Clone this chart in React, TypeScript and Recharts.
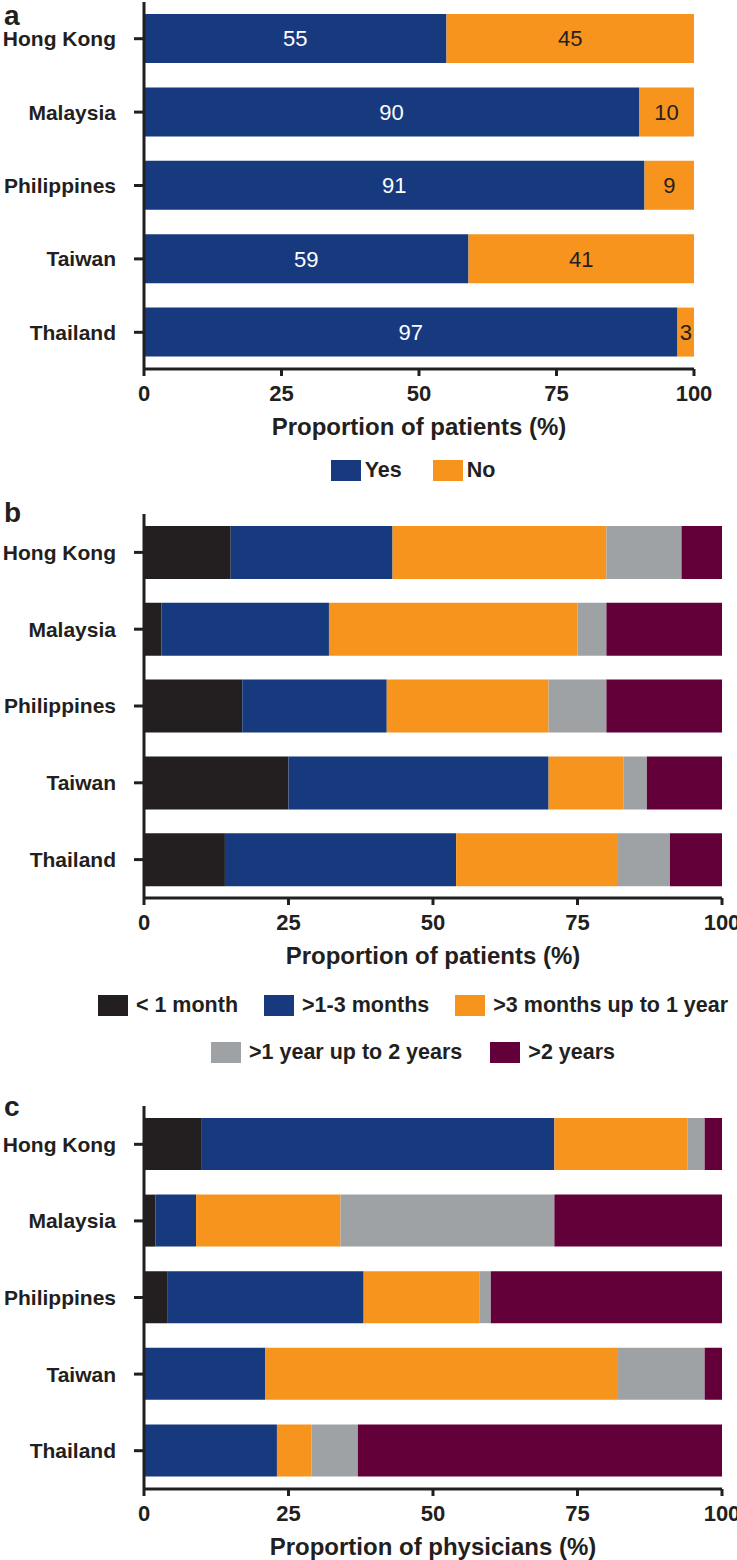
import React from "react";
import { BarChart, Bar, XAxis, YAxis, LabelList } from "recharts";

const countries = ["Hong Kong", "Malaysia", "Philippines", "Taiwan", "Thailand"];
const xTicks = [0, 25, 50, 75, 100];

// panel a
const yesValues = [55, 90, 91, 59, 97];
const noValues = [45, 10, 9, 41, 3];

// panel b + c share the duration categories
const durationLabels = [
  "< 1 month",
  ">1-3 months",
  ">3 months up to 1 year",
  ">1 year up to 2 years",
  ">2 years",
];

const patientLt1m = [15, 3, 17, 25, 14];
const patient1to3m = [28, 29, 25, 45, 40];
const patient3to12m = [37, 43, 28, 13, 28];
const patient1to2y = [13, 5, 10, 4, 9];
const patientGt2y = [7, 20, 20, 13, 9];

const physLt1m = [10, 2, 4, 0, 0];
const phys1to3m = [61, 7, 34, 21, 23];
const phys3to12m = [23, 25, 20, 61, 6];
const phys1to2y = [3, 37, 2, 15, 8];
const physGt2y = [3, 29, 40, 3, 63];

const INK = "#231f20";
const NAVY = "#173a7f";
const ORANGE = "#f7941e";
const GRAY = "#9fa2a5";
const PURPLE = "#63003a";
const FONT = "'Liberation Sans', Arial, Helvetica, sans-serif";

const durationColors = [INK, NAVY, ORANGE, GRAY, PURPLE];

type Series = {
  key: string;
  name: string;
  color: string;
  values: number[];
  labelFill?: string;
};

const yesNoSeries: Series[] = [
  { key: "yes", name: "Yes", color: NAVY, values: yesValues, labelFill: "#ffffff" },
  { key: "no", name: "No", color: ORANGE, values: noValues, labelFill: INK },
];

const patientSeries: Series[] = [patientLt1m, patient1to3m, patient3to12m, patient1to2y, patientGt2y].map(
  (values, i) => ({ key: "d" + i, name: durationLabels[i], color: durationColors[i], values })
);

const physicianSeries: Series[] = [physLt1m, phys1to3m, phys3to12m, phys1to2y, physGt2y].map(
  (values, i) => ({ key: "d" + i, name: durationLabels[i], color: durationColors[i], values })
);

function buildRows(series: Series[]) {
  return countries.map((country, i) => {
    const row: Record<string, string | number> = { country };
    series.forEach((s) => {
      row[s.key] = s.values[i];
    });
    return row;
  });
}

const X_AXIS_H = 70;

function Panel(props: {
  top: number;
  height: number;
  plotTop: number;
  plotBottom: number;
  plotRight: number;
  barSize: number;
  series: Series[];
  title: string;
  showLabels?: boolean;
}) {
  const { top, height, plotTop, plotBottom, plotRight, barSize, series, title, showLabels } = props;
  const data = buildRows(series);
  return (
    <div style={{ position: "absolute", left: 0, top }}>
      <BarChart
        width={737}
        height={height}
        data={data}
        layout="vertical"
        barSize={barSize}
        margin={{ top: plotTop, right: 737 - plotRight, bottom: height - plotBottom - X_AXIS_H, left: 0 }}
      >
        <XAxis
          type="number"
          domain={[0, 100]}
          ticks={xTicks}
          interval={0}
          height={X_AXIS_H}
          tickSize={7}
          tickMargin={9}
          axisLine={{ stroke: INK, strokeWidth: 3 }}
          tickLine={{ stroke: INK, strokeWidth: 3 }}
          tick={{ fill: INK, fontSize: 22, fontWeight: 700 }}
          label={{
            value: title,
            position: "insideBottom",
            offset: 4,
            fill: INK,
            fontSize: 24,
            fontWeight: 700,
          }}
        />
        <YAxis
          type="category"
          dataKey="country"
          width={144}
          interval={0}
          tickSize={10}
          tickMargin={18}
          axisLine={{ stroke: INK, strokeWidth: 3 }}
          tickLine={{ stroke: INK, strokeWidth: 3 }}
          tick={{ fill: INK, fontSize: 21, fontWeight: 700 }}
        />
        {series.map((s) => (
          <Bar key={s.key} dataKey={s.key} name={s.name} stackId="s" fill={s.color} isAnimationActive={false}>
            {showLabels ? (
              <LabelList dataKey={s.key} position="center" fill={s.labelFill} fontSize={22} />
            ) : null}
          </Bar>
        ))}
      </BarChart>
    </div>
  );
}

function LegendRow(props: { items: Series[]; top: number; center: number; iconGap: number; itemGap: number }) {
  const { items, top, center, iconGap, itemGap } = props;
  return (
    <div
      style={{
        position: "absolute",
        top,
        left: center - 400,
        width: 800,
        display: "flex",
        justifyContent: "center",
        columnGap: itemGap,
      }}
    >
      {items.map((s) => (
        <div key={s.key} style={{ display: "flex", alignItems: "center", height: 21 }}>
          <div style={{ width: 30, height: 21, background: s.color, marginRight: iconGap }} />
          <span style={{ fontSize: 21.5, fontWeight: 700, color: INK, lineHeight: "21px", whiteSpace: "nowrap" }}>
            {s.name}
          </span>
        </div>
      ))}
    </div>
  );
}

const letterStyle: React.CSSProperties = {
  position: "absolute",
  left: 4,
  fontSize: 28,
  lineHeight: "normal",
  fontWeight: 700,
  color: INK,
};

export default function App() {
  return (
    <div
      style={{
        position: "absolute",
        left: 0,
        top: 0,
        width: 737,
        height: 1560,
        background: "#ffffff",
        fontFamily: FONT,
        overflow: "hidden",
      }}
    >
      <Panel
        top={0}
        height={500}
        plotTop={2}
        plotBottom={369}
        plotRight={694}
        barSize={49}
        series={yesNoSeries}
        title="Proportion of patients (%)"
        showLabels
      />
      <LegendRow items={yesNoSeries} top={460} center={413} iconGap={4} itemGap={31} />

      <Panel
        top={490}
        height={590}
        plotTop={24}
        plotBottom={408}
        plotRight={722}
        barSize={53}
        series={patientSeries}
        title="Proportion of patients (%)"
      />
      <LegendRow items={patientSeries.slice(0, 3)} top={995} center={413} iconGap={8} itemGap={26} />
      <LegendRow items={patientSeries.slice(3)} top={1042} center={413} iconGap={8} itemGap={28} />

      <Panel
        top={1080}
        height={480}
        plotTop={26}
        plotBottom={409}
        plotRight={722}
        barSize={52}
        series={physicianSeries}
        title="Proportion of physicians (%)"
      />

      <div style={{ ...letterStyle, top: 0 }}>a</div>
      <div style={{ ...letterStyle, top: 497 }}>b</div>
      <div style={{ ...letterStyle, top: 1091 }}>c</div>
    </div>
  );
}
